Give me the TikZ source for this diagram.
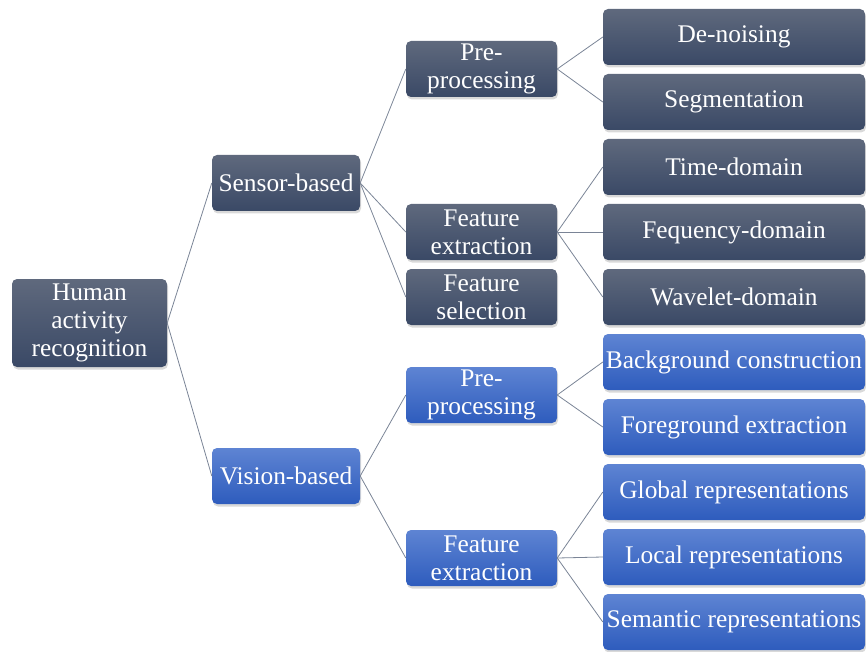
\documentclass[tikz,border=0pt]{standalone}
\usepackage{fontspec}
\setmainfont{Liberation Serif}
\usetikzlibrary{shadows}
\definecolor{darktop}{HTML}{5F697D}
\definecolor{darkbot}{HTML}{3A4966}
\definecolor{bluetop}{HTML}{5E84D3}
\definecolor{bluebot}{HTML}{2E5CBD}
\definecolor{linkgray}{HTML}{7A8496}

\begin{document}
\begin{tikzpicture}[x=1pt, y=-1pt,
  box/.style={rectangle, rounded corners=5pt, inner sep=0pt, align=center,
    text=white, font=\fontsize{25.4}{28}\selectfont,
    drop shadow={shadow xshift=1pt, shadow yshift=-2.5pt, opacity=0.3}},
  darkbox/.style={box, top color=darktop, bottom color=darkbot},
  bluebox/.style={box, top color=bluetop, bottom color=bluebot},
  rootbox/.style={minimum width=155pt, minimum height=88pt},
  midbox/.style={minimum width=148pt, minimum height=56pt},
  subbox/.style={minimum width=151pt, minimum height=56pt},
  leafbox/.style={minimum width=262pt, minimum height=56pt},
  link/.style={draw=linkgray, line width=0.8pt}]
\useasboundingbox (0,0) rectangle (866,652);
% Root
\node[darkbox, rootbox] (har) at (89.5,323) {Human\\activity\\recognition};
% Sensor-based branch
\node[darkbox, midbox] (sensor) at (286,183) {Sensor-based};
\node[darkbox, subbox] (spre) at (481.5,69) {Pre-\\processing};
\node[darkbox, subbox] (sfeat) at (481.5,232) {Feature\\extraction};
\node[darkbox, subbox] (ssel) at (481.5,297) {Feature\\selection};
\node[darkbox, leafbox] (denoise) at (734,37) {De-noising};
\node[darkbox, leafbox] (segment) at (734,102) {Segmentation};
\node[darkbox, leafbox] (time) at (734,167) {Time-domain};
\node[darkbox, leafbox] (freq) at (734,232) {Fequency-domain};
\node[darkbox, leafbox] (wave) at (734,297) {Wavelet-domain};
% Vision-based branch
\node[bluebox, midbox] (vision) at (286,476) {Vision-based};
\node[bluebox, subbox] (vpre) at (481.5,395) {Pre-\\processing};
\node[bluebox, subbox] (vfeat) at (481.5,558) {Feature\\extraction};
\node[bluebox, leafbox] (backgr) at (734,362) {Background construction};
\node[bluebox, leafbox] (foregr) at (734,427) {Foreground extraction};
\node[bluebox, leafbox] (global) at (734,492) {Global representations};
\node[bluebox, leafbox] (local) at (734,557) {Local representations};
\node[bluebox, leafbox] (semantic) at (734,622) {Semantic representations};
% Links
\draw[link] (har.east) -- (sensor.west);
\draw[link] (har.east) -- (vision.west);
\draw[link] (sensor.east) -- (spre.west);
\draw[link] (sensor.east) -- (sfeat.west);
\draw[link] (sensor.east) -- (ssel.west);
\draw[link] (vision.east) -- (vpre.west);
\draw[link] (vision.east) -- (vfeat.west);
\draw[link] (spre.east) -- (denoise.west);
\draw[link] (spre.east) -- (segment.west);
\draw[link] (sfeat.east) -- (time.west);
\draw[link] (sfeat.east) -- (freq.west);
\draw[link] (sfeat.east) -- (wave.west);
\draw[link] (vpre.east) -- (backgr.west);
\draw[link] (vpre.east) -- (foregr.west);
\draw[link] (vfeat.east) -- (global.west);
\draw[link] (vfeat.east) -- (local.west);
\draw[link] (vfeat.east) -- (semantic.west);
\end{tikzpicture}
\end{document}
